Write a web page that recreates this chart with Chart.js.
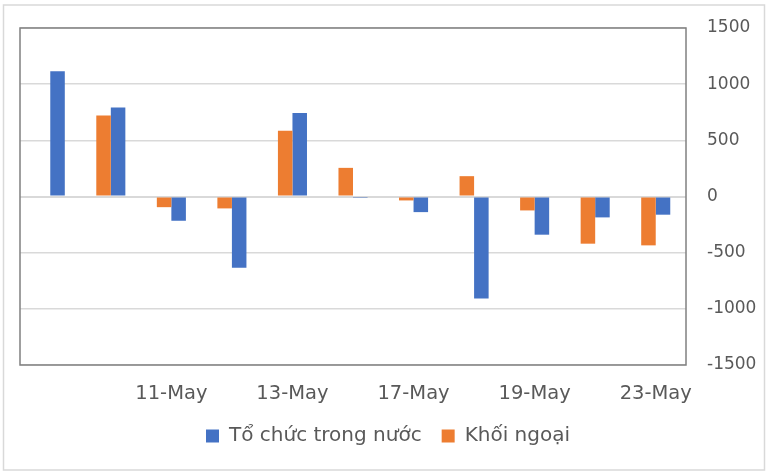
<!DOCTYPE html>
<html>
<head>
<meta charset="utf-8">
<script src="https://cdn.jsdelivr.net/npm/chart.js@4"></script>
<style>
  body { margin: 0; background: #fff; }
</style>
</head>
<body>
<canvas id="chart-flow" width="767" height="472"></canvas>
<script>
const dates = ['9-May', '10-May', '11-May', '12-May', '13-May', '16-May', '17-May', '18-May', '19-May', '20-May', '23-May'];
const toChucTrongNuoc = [1115, 793, -216, -635, 743, -5, -139, -908, -340, -186, -162];
const khoiNgoai = [0, 722, -95, -106, 586, 255, -35, 181, -124, -420, -435];
const yTicks = [1500, 1000, 500, 0, -500, -1000, -1500];

const FONT = "DejaVu Sans";

const frame = {
    id: 'frame',
    beforeDraw(chart) {
        const ctx = chart.ctx;
        ctx.save();
        ctx.fillStyle = '#fff';
        ctx.fillRect(0, 0, chart.width, chart.height);
        ctx.strokeStyle = '#d9d9d9';
        ctx.lineWidth = 1.5;
        ctx.strokeRect(3.5, 5, 761, 465);
        ctx.restore();
    },
    afterDatasetsDraw(chart) {
        const a = chart.chartArea;
        const ctx = chart.ctx;
        ctx.save();
        ctx.strokeStyle = '#808080';
        ctx.lineWidth = 1.5;
        ctx.strokeRect(a.left, a.top, a.right - a.left, a.bottom - a.top);
        ctx.restore();
    }
};

new Chart(document.getElementById('chart-flow'), {
    type: 'bar',
    data: {
        labels: dates,
        datasets: [{
            label: 'Khối ngoại',
            data: khoiNgoai,
            backgroundColor: '#ED7D31'
        }, {
            label: 'Tổ chức trong nước',
            data: toChucTrongNuoc,
            backgroundColor: '#4472C4'
        }]
    },
    options: {
        responsive: false,
        animation: false,
        devicePixelRatio: 1,
        layout: {
            padding: { left: 20, top: 28, right: 11, bottom: 16 }
        },
        datasets: {
            bar: { barPercentage: 1, categoryPercentage: 0.48 }
        },
        plugins: {
            legend: {
                position: 'bottom',
                labels: {
                    boxWidth: 13,
                    boxHeight: 13,
                    padding: 20,
                    color: '#595959',
                    font: { family: FONT, size: 20 },
                    sort: (a, b) => b.datasetIndex - a.datasetIndex
                }
            },
            tooltip: { enabled: false }
        },
        scales: {
            x: {
                grid: { display: false, drawTicks: false },
                border: { display: false },
                afterFit: (axis) => { axis.height = 41; },
                ticks: {
                    autoSkip: false,
                    maxRotation: 0,
                    padding: 17,
                    color: '#595959',
                    font: { family: FONT, size: 19.5 },
                    callback: (v, i) => (i % 2 === 0 && i > 0) ? dates[i] : ''
                }
            },
            y: {
                position: 'right',
                min: -1500,
                max: 1500,
                afterFit: (axis) => { axis.width = 70; },
                afterBuildTicks: (axis) => { axis.ticks = yTicks.map(v => ({ value: v })); },
                grid: {
                    drawTicks: true,
                    tickLength: 21,
                    tickColor: 'rgba(0,0,0,0)',
                    color: '#d9d9d9',
                    lineWidth: (c) => c.tick && c.tick.value === 0 ? 2 : 1.5
                },
                border: { display: false },
                ticks: {
                    padding: 0,
                    color: '#595959',
                    font: { family: FONT, size: 17 },
                    callback: (v) => String(v)
                }
            }
        }
    },
    plugins: [frame]
});
</script>
</body>
</html>
